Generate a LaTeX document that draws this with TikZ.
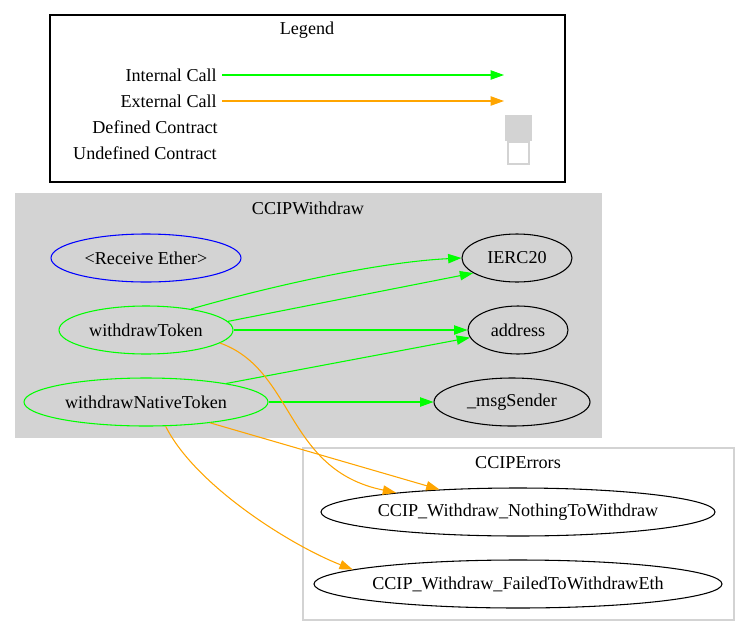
\documentclass[tikz,border=0pt]{standalone}
\usepackage{fontspec}
\setmainfont{Liberation Serif}
\usetikzlibrary{positioning, arrows.meta, shapes}
\definecolor{callGreen}{HTML}{00FF00}
\definecolor{callOrange}{HTML}{FFA500}
\definecolor{recvBlue}{HTML}{0000FF}
\definecolor{clusterGrey}{HTML}{D3D3D3}
\tikzstyle{func} =[ellipse, draw, inner sep=0pt, inner xsep=-5pt, minimum height=36pt, line width=0.8pt]
\tikzstyle{legendtext} =[anchor=east, inner sep=0pt]
\tikzstyle{internal} =[-{Triangle[length=10pt, width=7pt]}, line width=0.8pt, callGreen]
\tikzstyle{external} =[-{Triangle[length=10pt, width=7pt]}, line width=0.8pt, callOrange]

\begin{document}
\begin{tikzpicture}[x=0.75pt, y=-0.75pt, every node/.style={font=\fontsize{13.6pt}{16pt}\selectfont}]
\useasboundingbox (0,0) rectangle (750,636);

%legend
\node (legendBox) [draw, line width=0.8pt, minimum width=386.25pt, minimum height=125.25pt, inner sep=0pt] at (307.5,98.5) {};
\node (legendTitle) at (307,30) {Legend};

\node (intLabel) [legendtext] at (217,75) {Internal Call};
\node (extLabel) [legendtext] at (217,101) {External Call};
\node (defLabel) [legendtext] at (218,127) {Defined Contract};
\node (undefLabel) [legendtext] at (217,153) {Undefined Contract};

\coordinate (intStart) at (222,75);
\coordinate (intEnd) at (504,75);
\coordinate (extStart) at (222,101);
\coordinate (extEnd) at (504,101);

\draw[internal] (intStart) -- (intEnd);
\draw[external] (extStart) -- (extEnd);

\node (defBox) [fill=clusterGrey, draw=clusterGrey, minimum width=19.5pt, minimum height=18.75pt, inner sep=0pt] at (518,127.5) {};
\node (undefBox) [fill=white, draw=clusterGrey, line width=0.8pt, minimum width=15.75pt, minimum height=16.5pt, inner sep=0pt] at (518.5,153) {};

%clusters
\node (withdrawBox) [fill=clusterGrey, draw=clusterGrey, minimum width=439.5pt, minimum height=183pt, inner sep=0pt] at (308,315) {};
\node (withdrawTitle) at (308,208) {CCIPWithdraw};

\node (errorsBox) [draw=clusterGrey, line width=0.8pt, minimum width=323.25pt, minimum height=129pt, inner sep=0pt] at (518.5,534) {};
\node (errorsTitle) at (518,463) {CCIPErrors};

%functions
\node (receive) [func, recvBlue, text=black, minimum width=142.5pt] at (146,258) {<Receive Ether>};
\node (wToken) [func, callGreen, text=black, minimum width=130.5pt] at (146,330) {withdrawToken};
\node (wNative) [func, callGreen, text=black, minimum width=183pt] at (146,402) {withdrawNativeToken};

\node (ierc) [func, minimum width=82.5pt] at (517,258) {IERC20};
\node (addr) [func, minimum width=75pt] at (518,330) {address};
\node (msgSender) [func, minimum width=117pt] at (512,402) {\_msgSender};

\node (nothing) [func, minimum width=295.5pt] at (518,512) {CCIP\_Withdraw\_NothingToWithdraw};
\node (failed) [func, minimum width=306pt] at (518,584) {CCIP\_Withdraw\_FailedToWithdrawEth};

%calls
\draw[internal] (wToken.25) .. controls (275,285) and (380,262) .. (ierc.west);
\draw[internal] (wToken.6) -- (ierc.199);
\draw[internal] (wToken.east) -- (addr.west);
\draw[internal] (wNative.13) -- (addr.189);
\draw[internal] (wNative.east) -- (msgSender.west);

\draw[external] (wToken.350) .. controls (295,370) and (285,470) .. (nothing.171);
\draw[external] (wNative.342) -- (nothing.164);
\draw[external] (wNative.309) .. controls (195,485) and (290,545) .. (failed.175);
\end{tikzpicture}
\end{document}
